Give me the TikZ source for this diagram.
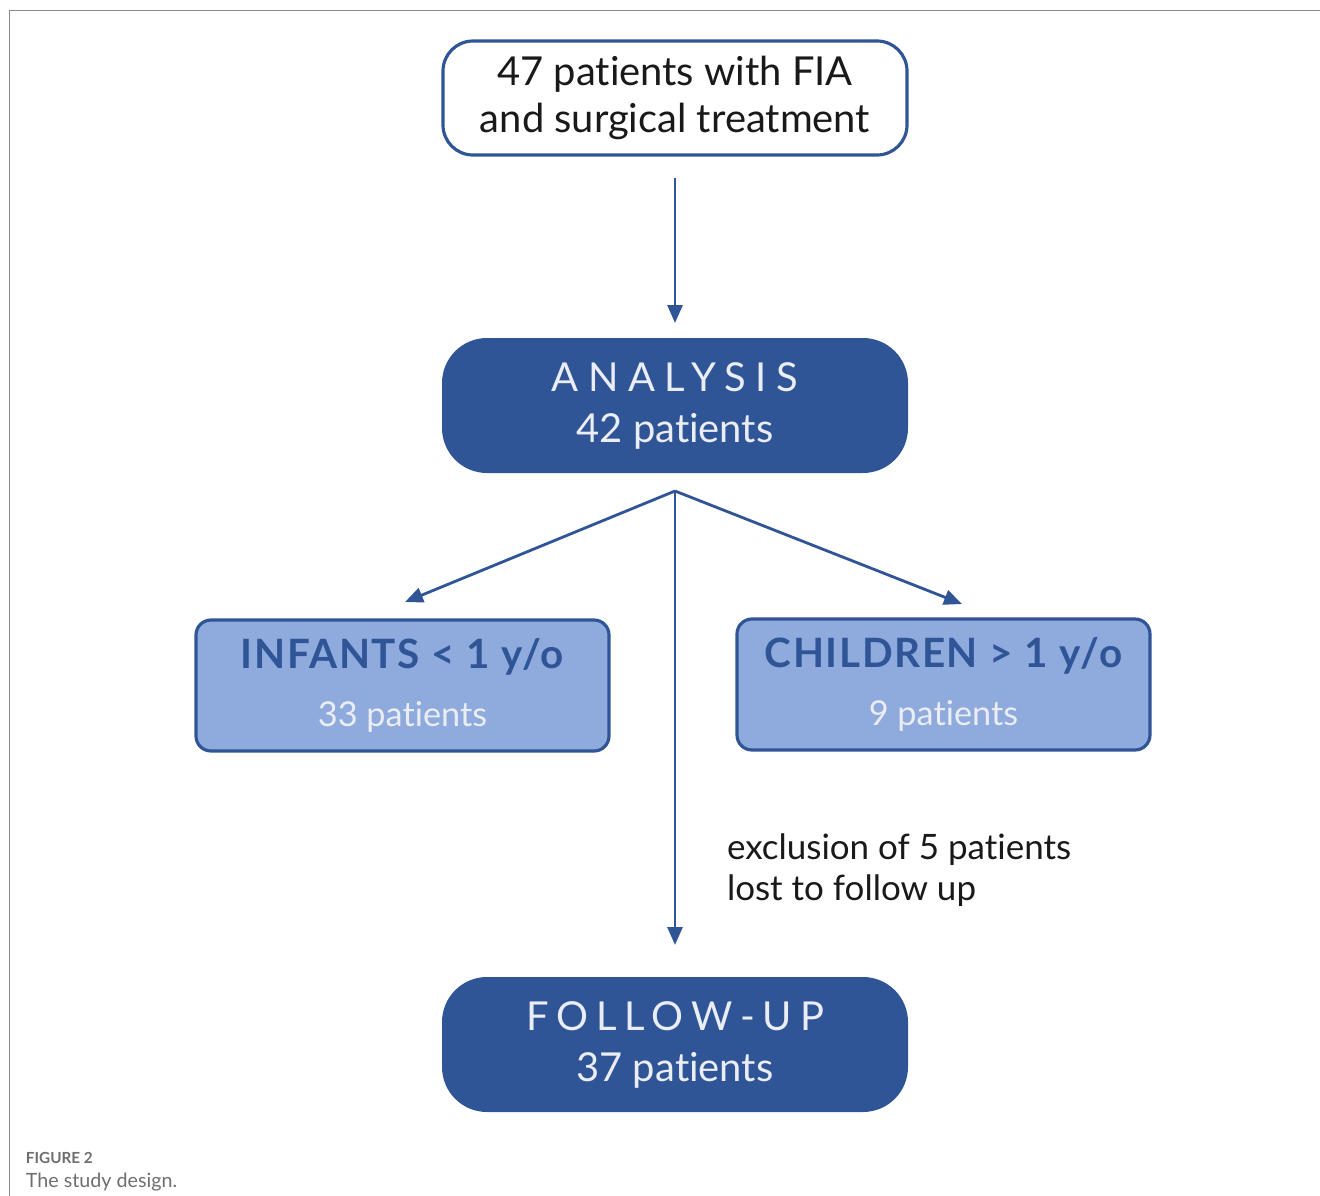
\documentclass[tikz,border=0pt]{standalone}
\usepackage{fontspec}
\setmainfont{Lato}[Ligatures=NoCommon]
\usetikzlibrary{calc}
\usetikzlibrary{positioning}
\usetikzlibrary{arrows.meta}
\definecolor{boxblue}{HTML}{2F5597}
\definecolor{paleblue}{HTML}{8FAADC}
\definecolor{paletext}{HTML}{EAEDF3}
\definecolor{framegray}{HTML}{8A8A8A}
\definecolor{captiongray}{HTML}{6E6E6E}

\begin{document}
\begin{tikzpicture}
[
% 線と文字の間の間隔を設定
every node/.style={outer sep=0.12cm, inner sep=0},
% 矢印の設定
arrow/.style={-{Triangle[length=0.36cm, width=0.3cm]}, line width=1.6pt, boxblue},
% 最初のブロック
startbox/.style={rectangle, rounded corners=0.6cm, draw=boxblue, line width=1.8pt,
fill=white, minimum width=9.28cm, minimum height=2.28cm, align=center, outer sep=0,
text=black!90, font=\fontsize{22.7}{26.7}\selectfont},
% 濃い青のブロック
mainbox/.style={rectangle, rounded corners=0.9cm, fill=boxblue, text=paletext,
minimum width=9.32cm, minimum height=2.7cm, align=center, outer sep=0,
font=\fontsize{22.7}{29}\selectfont},
% 薄い青のブロック
groupbox/.style={rectangle, rounded corners=0.3cm, draw=boxblue, line width=1.8pt,
fill=paleblue, minimum width=8.26cm, minimum height=2.62cm, align=center, outer sep=0}
]
\useasboundingbox (0,0) rectangle (26.4,-23.92);
% 枠
\draw [framegray, line width=0.8pt] (0.19,-23.92) |- (26.4,-0.21);

% ブロックの配置
\node [startbox] (start) at (13.5,-1.96) {47 patients with FIA\\and surgical treatment};
\node [mainbox, below=3.66 of start] (analysis)
{{\addfontfeature{LetterSpace=24}ANALYSIS\hspace{-0.24em}}\\42 patients};
\node [groupbox, below=2.94 of analysis, xshift=-5.45cm] (infants)
{{\fontsize{23}{26}\selectfont\bfseries\addfontfeature{LetterSpace=4}\color{boxblue}INFANTS < 1 y/o}\\[0.5cm]
{\fontsize{19.5}{23}\selectfont\color{paletext}33 patients}};
\node [groupbox, below=2.92 of analysis, xshift=5.37cm] (children)
{{\fontsize{23}{26}\selectfont\bfseries\addfontfeature{LetterSpace=4}\color{boxblue}CHILDREN > 1 y/o}\\[0.5cm]
{\fontsize{19.5}{23}\selectfont\color{paletext}9 patients}};
\node [mainbox, below=10.08 of analysis] (followup)
{{\addfontfeature{LetterSpace=20}FOLLOW-UP\hspace{-0.2em}}\\37 patients};

% ブロックの接続
\coordinate (branch) at ($(analysis.south)+(0,-0.36)$);
\coordinate (infantstip) at ($(infants.north)+(0.05,0.36)$);
\coordinate (childrentip) at ($(children.north)+(0.37,0.3)$);
\draw [arrow, shorten <=0.46cm, shorten >=0.3cm] (start) -- (analysis);
\draw [arrow] (branch) -- (infantstip);
\draw [arrow] (branch) -- (childrentip);
\draw [arrow, shorten >=0.64cm] (branch) -- (branch |- followup.north)
node [pos=0.78, right=1.04cm, outer sep=0, align=left, text=black!90,
font=\fontsize{19.9}{23}\selectfont] (exclusion) {exclusion of 5 patients\\lost to follow up};

% キャプション
\node [anchor=base west, outer sep=0, text=captiongray, font=\fontsize{8.7}{10}\selectfont\bfseries]
(figlabel) at (0.52,-23.26) {FIGURE 2};
\node [anchor=base west, outer sep=0, text=captiongray, font=\fontsize{11.2}{13}\selectfont]
(figtitle) at (0.52,-23.74) {The study design.};
\end{tikzpicture}
\end{document}
